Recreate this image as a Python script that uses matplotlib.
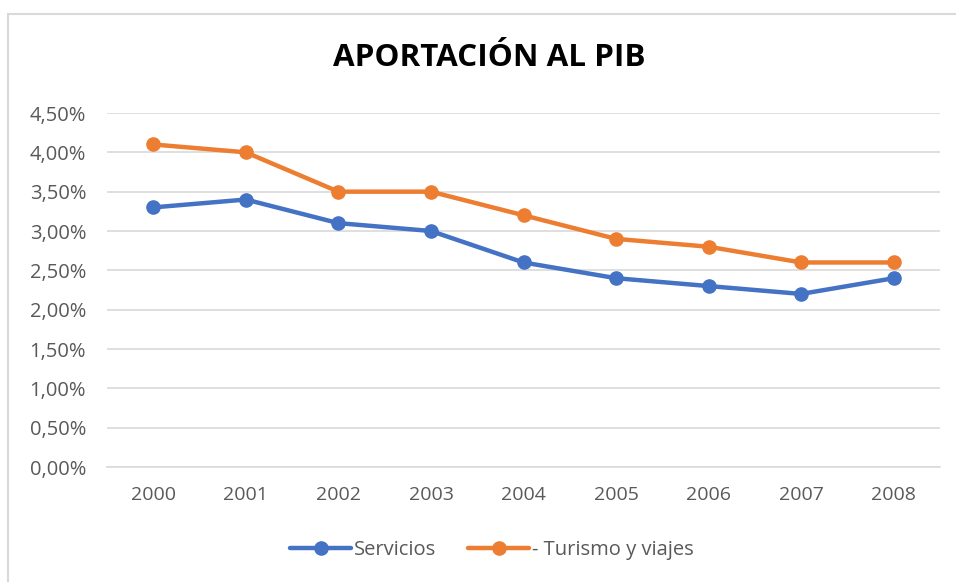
import matplotlib
matplotlib.use("Agg")
import matplotlib.pyplot as plt
from matplotlib.patches import Rectangle
from matplotlib.ticker import FuncFormatter

years = ["2000", "2001", "2002", "2003", "2004", "2005", "2006", "2007", "2008"]
servicios = [3.3, 3.4, 3.1, 3.0, 2.6, 2.4, 2.3, 2.2, 2.4]
turismo = [4.1, 4.0, 3.5, 3.5, 3.2, 2.9, 2.8, 2.6, 2.6]
labels = ["Servicios", "- Turismo y viajes"]
title = "APORTACIÓN AL PIB"

plt.rcParams['font.family'] = ['Open Sans', 'DejaVu Sans']
txt = '#595959'

fig = plt.figure(figsize=(9.56, 5.82), dpi=100)
fig.patches.append(Rectangle((8/956, -0.1), 1.2, (582-14)/582 + 0.1, transform=fig.transFigure,
                             fill=False, edgecolor='#d9d9d9', linewidth=1.5))
ax = fig.add_axes([107/956, (582-467)/582, (940-107)/956, (467-113)/582])

x = list(range(len(years)))
ax.plot(x, servicios, color='#4472C4', linewidth=3.2, marker='o', markersize=9.5, label=labels[0],
        solid_capstyle='round')
ax.plot(x, turismo, color='#ED7D31', linewidth=3.2, marker='o', markersize=9.5, label=labels[1],
        solid_capstyle='round')

ax.set_xlim(-0.5, len(years) - 0.5)
ax.set_ylim(0, 4.5)
ax.set_yticks([i * 0.5 for i in range(10)])
ax.yaxis.set_major_formatter(FuncFormatter(lambda v, p: f"{v:.2f}".replace('.', ',') + '%'))
ax.set_xticks(x)
ax.set_xticklabels(years)
ax.grid(axis='y', color='#d9d9d9', linewidth=1.2)
ax.set_axisbelow(True)
for s in ['top', 'right', 'left']:
    ax.spines[s].set_visible(False)
ax.spines['bottom'].set_color('#d9d9d9')
ax.spines['bottom'].set_linewidth(1.2)
ax.tick_params(axis='both', length=0, colors=txt)
ax.tick_params(axis='y', pad=15, labelsize=14.5)
ax.tick_params(axis='x', pad=14, labelsize=14)

fig.text(489/956, 1 - 58/582, title, ha='center', va='center', fontsize=22.6, fontweight='bold', color='black')

leg = fig.legend(loc='center', bbox_to_anchor=(492/956, 1 - 550/582), ncol=2, frameon=False,
                 fontsize=14.5, handlelength=3.0, handletextpad=0.15, columnspacing=1.6)
for t in leg.get_texts():
    t.set_color(txt)

fig.savefig('out.png', dpi=100)
